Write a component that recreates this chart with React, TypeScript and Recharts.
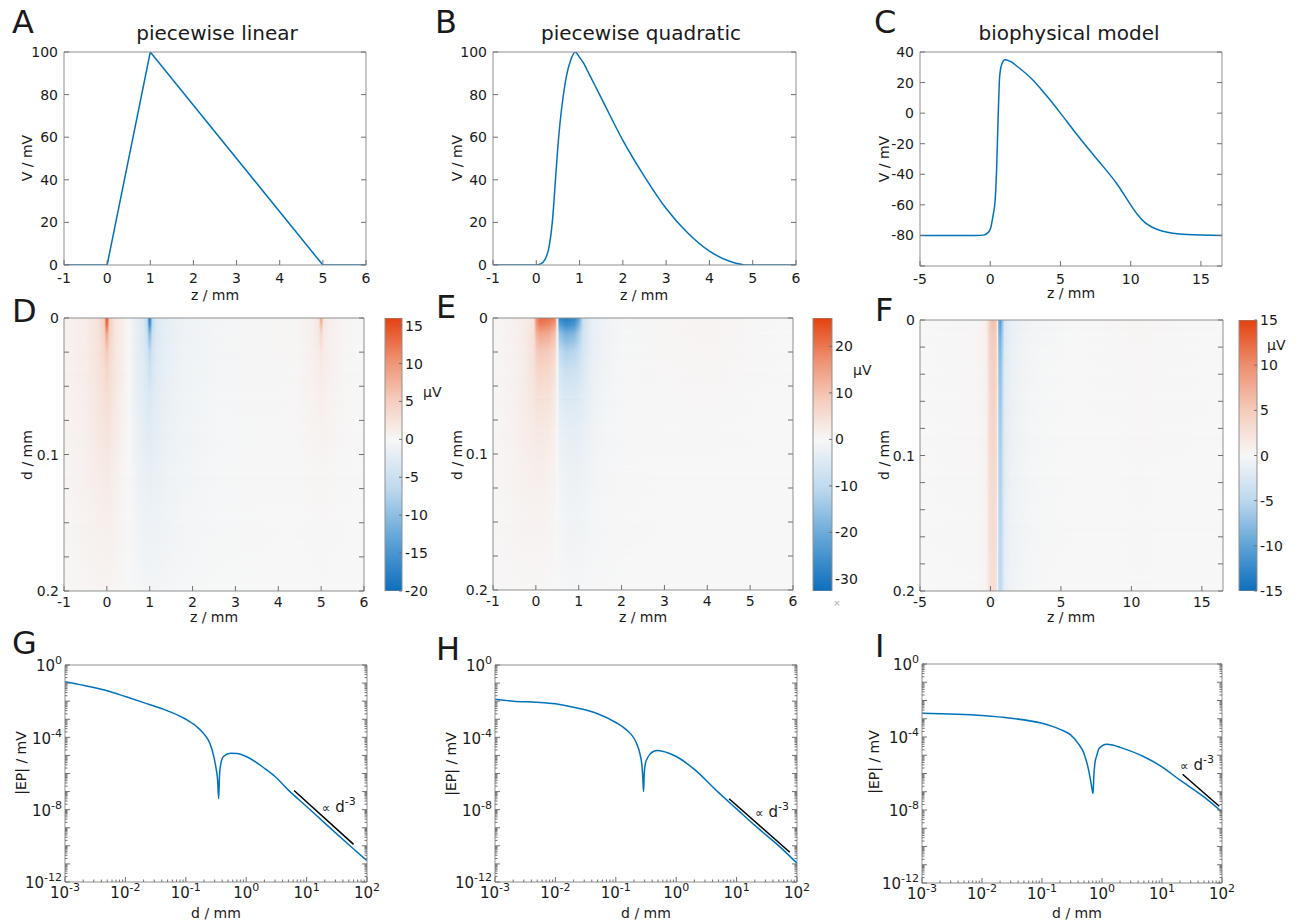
import React from "react";
import { LineChart, Line, ComposedChart, BarChart, Bar, XAxis, YAxis, ReferenceArea, ReferenceDot } from "recharts";

const FONT = "'DejaVu Sans', Verdana, sans-serif";
const INK = "#1a1a1a";
const FRAME = "#8f8f8f";
const TICK = "#707070";
const BLUE = "#0072bd";

// A-C: membrane potential V (mV) along the fibre, z (mm)
const linZ = [-1, 0, 1, 5, 6];
const linV = [0, 0, 100, 0, 0];
const quadZ = [-1, 0, 0.1, 0.2, 0.3, 0.37, 0.45, 0.5, 0.55, 0.62, 0.7, 0.8, 0.9, 1, 1.1, 1.2, 1.35, 1.5, 2, 2.5, 3, 3.5, 4, 4.5, 4.85, 6];
const quadV = [0, 0, 0.5, 2.5, 9, 20, 42, 56, 67, 79, 89, 96.5, 100, 97.5, 94.5, 90.5, 84.5, 78.5, 58.5, 41.5, 26.5, 15, 6.5, 1.5, 0, 0];
const bioZ = [-5, -1, -0.5, -0.2, 0, 0.2, 0.35, 0.46, 0.53, 0.6, 0.65, 0.72, 0.82, 1.05, 1.5, 2, 3, 4, 5, 6, 7, 8, 9, 10, 10.5, 11, 11.5, 12, 13, 14, 16.5];
const bioV = [-80, -80, -79.8, -78.5, -76, -67, -57, -35, -13, 8, 21, 28, 32, 35, 33.5, 30, 22, 11.5, 0, -12, -23.5, -34.5, -46, -60, -66.5, -71.5, -74.5, -76.5, -78.5, -79.4, -80];

const zTicksShort = [-1, 0, 1, 2, 3, 4, 5, 6];
const zTicksLong = [-5, 0, 5, 10, 15];
const vTicks = [0, 20, 40, 60, 80, 100];
const bioVTicks = [-100, -80, -60, -40, -20, 0, 20, 40];

// G-I: |EP| (mV) against distance d (mm)
const linD = [0.001, 0.002, 0.005, 0.01, 0.02, 0.05, 0.1, 0.15, 0.2, 0.25, 0.29, 0.32, 0.336, 0.35, 0.363, 0.382, 0.42, 0.55, 0.7, 1, 2, 3, 5, 10, 20, 50, 100];
const linEP = [1.2e-1, 7.6e-2, 3.8e-2, 1.8e-2, 8.3e-3, 2.9e-3, 1.0e-3, 4.0e-4, 1.55e-4, 4.7e-5, 9e-6, 1.6e-6, 4.5e-7, 4.0e-8, 1.05e-6, 3.7e-6, 8.7e-6, 1.3e-5, 1.26e-5, 8.7e-6, 1.95e-6, 6.8e-7, 1.2e-7, 1.5e-8, 1.8e-9, 1.15e-10, 1.5e-11];
const quadD = [0.001, 0.002, 0.005, 0.01, 0.02, 0.05, 0.1, 0.15, 0.2, 0.22, 0.25, 0.27, 0.28, 0.288, 0.296, 0.31, 0.34, 0.41, 0.5, 0.7, 1, 2, 5, 10, 20, 50, 100];
const quadEP = [1.26e-2, 1.0e-2, 8.7e-3, 7.1e-3, 4.6e-3, 2.0e-3, 6.6e-4, 2.6e-4, 8.9e-5, 4.7e-5, 1.3e-5, 3.0e-6, 6e-7, 1e-7, 1.05e-6, 3.7e-6, 7.9e-6, 1.6e-5, 1.9e-5, 1.45e-5, 8.7e-6, 1.7e-6, 9e-8, 1.1e-8, 1.35e-9, 1.0e-10, 1.1e-11];
const bioD = [0.001, 0.01, 0.03, 0.1, 0.2, 0.3, 0.4, 0.5, 0.6, 0.66, 0.71, 0.73, 0.76, 0.82, 0.9, 1.2, 1.5, 2, 5, 10, 20, 50, 100];
const bioEP = [2.0e-3, 1.5e-3, 1.07e-3, 5.6e-4, 2.6e-4, 1.3e-4, 4.5e-5, 1.26e-5, 1.5e-6, 2.8e-7, 8e-8, 6.6e-7, 3.5e-6, 1.0e-5, 2.4e-5, 4.0e-5, 3.6e-5, 2.7e-5, 8.3e-6, 2.3e-6, 4.3e-7, 5.2e-8, 7.8e-9];

// d^-3 guide lines and where their labels sit
const linGuideD = [6.2, 60];
const linGuideEP = [1.15e-7, 1.2e-10];
const quadGuideD = [7.5, 76];
const quadGuideEP = [4e-8, 4.4e-11];
const bioGuideD = [22, 90];
const bioGuideEP = [9.1e-7, 1.6e-8];
const guideNotes = [
  { d: 17.9, ep: 7.4e-9 },
  { d: 20.2, ep: 3.9e-9 },
  { d: 20, ep: 1.55e-6 },
];

const dMajor = [1e-3, 1e-2, 1e-1, 1, 10, 100];
const epDecades = [1, 1e-1, 1e-2, 1e-3, 1e-4, 1e-5, 1e-6, 1e-7, 1e-8, 1e-9, 1e-10, 1e-11, 1e-12];
const epLabelled = [0, -4, -8, -12];

// D-F: potential (µV) at nodes z, one row per depth node
const depthNodes = [0, 0.005, 0.012, 0.025, 0.04, 0.06, 0.085, 0.115, 0.15, 0.2];
const linMapZ = [-1, -0.5, -0.2, -0.06, 0, 0.06, 0.2, 0.4, 0.52, 0.65, 0.85, 0.94, 1, 1.06, 1.15, 1.4, 1.8, 2.6, 4.4, 4.8, 4.95, 5, 5.05, 5.2, 5.6, 6];
const linMap = [
  [0.6, 1.2, 2.5, 5, 16, 5, 2, 0.8, 0, -1.5, -3, -6, -20, -6, -3, -1.8, -1, -0.4, 0.3, 1, 2.5, 10, 2.5, 1, 0.3, 0],
  [0.6, 1.2, 2.5, 5, 14, 5, 2, 0.8, 0, -1.5, -3, -6, -17, -6, -3, -1.8, -1, -0.4, 0.3, 1, 2.2, 7, 2.2, 1, 0.3, 0],
  [0.6, 1.2, 2.5, 4.5, 9, 4.5, 2, 0.8, 0, -1.5, -3, -5, -11, -5, -3, -1.8, -1, -0.4, 0.3, 1, 1.8, 4, 1.8, 1, 0.3, 0],
  [0.6, 1.2, 2.4, 3.8, 5.5, 3.8, 2, 0.8, 0, -1.5, -2.8, -4, -6.5, -4, -2.8, -1.7, -1, -0.4, 0.3, 0.9, 1.4, 2.2, 1.4, 0.9, 0.3, 0],
  [0.6, 1.2, 2.3, 3.2, 4, 3.2, 1.9, 0.7, 0, -1.4, -2.6, -3.4, -4.5, -3.4, -2.6, -1.6, -0.9, -0.4, 0.2, 0.8, 1.1, 1.5, 1.1, 0.8, 0.2, 0],
  [0.5, 1.1, 2.1, 2.7, 3, 2.7, 1.7, 0.6, 0, -1.3, -2.3, -2.8, -3.3, -2.8, -2.3, -1.5, -0.9, -0.3, 0.2, 0.6, 0.9, 1.1, 0.9, 0.6, 0.2, 0],
  [0.5, 1.0, 1.8, 2.1, 2.3, 2.1, 1.4, 0.5, 0, -1.1, -1.9, -2.2, -2.5, -2.2, -1.9, -1.3, -0.8, -0.3, 0.1, 0.5, 0.6, 0.7, 0.6, 0.5, 0.1, 0],
  [0.4, 0.8, 1.3, 1.5, 1.6, 1.5, 1.0, 0.4, 0, -0.8, -1.4, -1.6, -1.8, -1.6, -1.5, -1.1, -0.7, -0.2, 0.1, 0.3, 0.4, 0.4, 0.4, 0.3, 0.1, 0],
  [0.3, 0.6, 0.9, 1.0, 1.0, 1.0, 0.7, 0.3, 0, -0.6, -1.0, -1.1, -1.2, -1.1, -1.1, -0.8, -0.5, -0.2, 0, 0.1, 0.2, 0.2, 0.2, 0.1, 0, 0],
  [0.2, 0.4, 0.5, 0.5, 0.5, 0.5, 0.4, 0.2, 0, -0.3, -0.5, -0.6, -0.6, -0.6, -0.6, -0.5, -0.3, -0.1, 0, 0, 0.1, 0.1, 0.1, 0, 0, 0],
];
const quadMapZ = [-1, -0.6, -0.3, -0.05, 0.02, 0.1, 0.3, 0.45, 0.5, 0.55, 0.7, 0.9, 1.0, 1.1, 1.3, 1.6, 2.0, 3.0, 4.1, 5.2, 6];
const quadMap = [
  [0.3, 1, 2, 4, 18, 22, 21, 19, 0, -28, -30, -28, -22, -8, -3, -1.5, -0.5, 0.5, 0.8, 0.2, 0],
  [0.3, 1, 2, 4, 16, 19, 18, 15, 0, -22, -26, -24, -18, -8, -3, -1.5, -0.5, 0.5, 0.8, 0.2, 0],
  [0.3, 1, 2, 4.5, 12, 14, 13, 10, 0, -15, -19, -17, -13, -7, -3, -1.5, -0.5, 0.5, 0.7, 0.2, 0],
  [0.3, 1, 2, 4.5, 8, 9, 8.5, 6, 0, -9, -12, -11, -9, -6, -3, -1.3, -0.5, 0.4, 0.6, 0.1, 0],
  [0.3, 1, 2, 4, 6, 6.5, 6, 4, 0, -6, -8, -7.5, -6.5, -5, -2.5, -1.2, -0.4, 0.3, 0.5, 0.1, 0],
  [0.3, 1, 2, 3.2, 4.2, 4.4, 4, 2.5, 0, -3.5, -5, -5, -4.5, -3.8, -2, -1, -0.3, 0.2, 0.3, 0, 0],
  [0.3, 0.9, 1.8, 2.4, 2.8, 2.8, 2.4, 1.4, 0, -2, -3, -3.2, -3, -2.6, -1.5, -0.8, -0.3, 0.1, 0.1, 0, 0],
  [0.3, 0.8, 1.3, 1.6, 1.7, 1.7, 1.4, 0.8, 0, -1.2, -1.9, -2.1, -2, -1.8, -1.1, -0.6, -0.2, 0, 0, 0, 0],
  [0.2, 0.6, 0.9, 1, 1, 0.9, 0.7, 0.4, 0, -0.6, -1.1, -1.3, -1.3, -1.2, -0.8, -0.4, -0.2, 0, 0, 0, 0],
  [0.1, 0.3, 0.4, 0.4, 0.4, 0.4, 0.3, 0.2, 0, -0.3, -0.5, -0.6, -0.6, -0.5, -0.4, -0.2, -0.1, 0, 0, 0, 0],
];
const bioMapZ = [-5, -1, -0.3, -0.1, 0.1, 0.3, 0.45, 0.52, 0.58, 0.7, 0.85, 1.0, 1.5, 2.5, 3.6, 6, 9, 10.5, 12, 16.5];
const bioMap = [
  [0, 0.2, 0.8, 4, 6, 6, 4, 0, -9, -11, -7, -2.5, -1.2, -0.6, -0.3, 0, 0.2, 0.4, 0.2, 0],
  [0, 0.2, 0.8, 3.8, 5.5, 5.5, 3.8, 0, -8.5, -10, -6.5, -2.3, -1.1, -0.6, -0.3, 0, 0.2, 0.3, 0.2, 0],
  [0, 0.2, 0.8, 3.6, 5, 5, 3.6, 0, -8, -9, -6, -2.2, -1.1, -0.5, -0.3, 0, 0.1, 0.3, 0.1, 0],
  [0, 0.2, 0.7, 3.4, 4.6, 4.6, 3.4, 0, -7, -8, -5.5, -2, -1, -0.5, -0.2, 0, 0.1, 0.2, 0.1, 0],
  [0, 0.2, 0.7, 3.2, 4.3, 4.3, 3.2, 0, -6.5, -7.5, -5, -1.9, -1, -0.5, -0.2, 0, 0.1, 0.2, 0.1, 0],
  [0, 0.2, 0.7, 3, 4, 4, 3, 0, -6, -7, -4.6, -1.8, -0.9, -0.4, -0.2, 0, 0.1, 0.2, 0.1, 0],
  [0, 0.2, 0.6, 2.8, 3.7, 3.7, 2.8, 0, -5.5, -6.3, -4.2, -1.7, -0.9, -0.4, -0.2, 0, 0, 0.2, 0.1, 0],
  [0, 0.2, 0.6, 2.6, 3.4, 3.4, 2.6, 0, -5, -5.8, -3.9, -1.6, -0.8, -0.4, -0.2, 0, 0, 0.1, 0, 0],
  [0, 0.1, 0.5, 2.4, 3.1, 3.1, 2.4, 0, -4.6, -5.3, -3.6, -1.5, -0.8, -0.4, -0.2, 0, 0, 0.1, 0, 0],
  [0, 0.1, 0.5, 2.2, 2.8, 2.8, 2.2, 0, -4.2, -4.8, -3.3, -1.4, -0.7, -0.3, -0.1, 0, 0, 0.1, 0, 0],
];
const dTicksLin = [0, 0.025, 0.05, 0.075, 0.1, 0.125, 0.15, 0.175, 0.2];
const dTicksBio = [0, 0.02, 0.04, 0.06, 0.08, 0.1, 0.12, 0.14, 0.16, 0.18, 0.2];
const dLabelled = [0, 0.1, 0.2];

// colour bar ranges (µV) and ticks
const linBar: [number, number] = [-20, 16];
const linBarTicks = [-20, -15, -10, -5, 0, 5, 10, 15];
const quadBar: [number, number] = [-32.6, 26.1];
const quadBarTicks = [-30, -20, -10, 0, 10, 20];
const bioBar: [number, number] = [-15, 15];
const bioBarTicks = [-15, -10, -5, 0, 5, 10, 15];

const POS = ["#f7f7f7", "#f5cbbb", "#ee8e6e", "#e4410f"];
const NEG = ["#f7f7f7", "#bcd8ee", "#5ea3d6", "#0d6ebc"];
const hex = (c: string) => [1, 3, 5].map((i) => parseInt(c.slice(i, i + 2), 16));
const ramp = (stops: string[], t: number) => {
  const s = Math.max(0, Math.min(1, t)) * (stops.length - 1);
  const i = Math.min(stops.length - 2, Math.floor(s));
  const f = s - i;
  const a = hex(stops[i]);
  const b = hex(stops[i + 1]);
  return `rgb(${a.map((c, k) => Math.round(c + (b[k] - c) * f)).join(",")})`;
};
const colour = (v: number, lo: number, hi: number) => (v >= 0 ? ramp(POS, v / hi) : ramp(NEG, v / lo));

const zip = (xs: number[], ys: number[]) => xs.map((x, i) => ({ x, y: ys[i] }));

const maps = [
  { id: "lin", z: linMapZ, rows: linMap, range: linBar, zDomain: [-1, 6] as [number, number] },
  { id: "quad", z: quadMapZ, rows: quadMap, range: quadBar, zDomain: [-1, 6] as [number, number] },
  { id: "bio", z: bioMapZ, rows: bioMap, range: bioBar, zDomain: [-5, 16.5] as [number, number] },
];

const barStops = ([lo, hi]: [number, number]) => {
  const span = hi - lo;
  const n = POS.length - 1;
  const s = [
    ...POS.map((c, k) => ({ o: (hi - (hi * k) / n) / span, c })),
    ...NEG.map((c, k) => ({ o: (hi - (lo * k) / n) / span, c })),
  ];
  return s.sort((a, b) => a.o - b.o);
};

type Side = "bottom" | "top" | "left" | "right";
type Fmt = ((v: number) => React.ReactNode) | null;

// inward tick mark plus an outside label; tickSize/tickMargin are 0 so (x, y) sits on the frame
const tickShape = (side: Side, fmt: Fmt, isMinor: (v: number) => boolean, off: number, shift = 0, fontSize = 14, major = 5) => (p: any) => {
  const x = Number(p.x);
  const y = Number(p.y);
  const v = Number(p.payload?.value);
  const len = isMinor(v) ? 2.5 : major;
  const ln =
    side === "bottom" ? { x1: x, x2: x, y1: y, y2: y - len }
    : side === "top" ? { x1: x, x2: x, y1: y, y2: y + len }
    : side === "left" ? { x1: x, x2: x + len, y1: y, y2: y }
    : { x1: x, x2: x - len, y1: y, y2: y };
  const txt = fmt ? fmt(v) : null;
  const t = { fontSize, fill: INK, fontFamily: FONT };
  return (
    <g>
      <line {...ln} stroke={TICK} strokeWidth={1} />
      {txt != null && side === "bottom" && <text x={x} y={y + off} textAnchor="middle" {...t}>{txt}</text>}
      {txt != null && side === "left" && <text x={x - off} y={y + shift} dy="0.36em" textAnchor="end" {...t}>{txt}</text>}
      {txt != null && side === "right" && <text x={x + off} y={y} dy="0.36em" textAnchor="start" {...t}>{txt}</text>}
    </g>
  );
};

type AxisCfg = {
  domain: [number, number];
  ticks: number[];
  log?: boolean;
  fmt: Fmt;
  minor?: (v: number) => boolean;
  off: number;
  reversed?: boolean;
  shift?: number;
  size?: number;
};

const LEFT_W = 60;
const TOP_M = 10;
const RIGHT_M = 14;
const BOTTOM_H = 50;
// the top and right axes need a size of at least 1px or Recharts skips drawing them
const EDGE = 1;

const base = {
  type: "number" as const,
  allowDataOverflow: true,
  interval: 0 as const,
  tickLine: false,
  tickSize: 0,
  tickMargin: 0,
  axisLine: { stroke: FRAME, strokeWidth: 1 },
};

const frame = (xa: AxisCfg, ya: AxisCfg) => {
  const xs = xa.log ? "log" : "linear";
  const ys = ya.log ? "log" : "linear";
  const xm = xa.minor ?? (() => false);
  const ym = ya.minor ?? (() => false);
  return [
    <XAxis key="xb" xAxisId="b" dataKey="x" {...base} scale={xs} domain={xa.domain} ticks={xa.ticks} height={BOTTOM_H}
      tick={tickShape("bottom", xa.fmt, xm, xa.off, 0, xa.size)} />,
    <XAxis key="xt" xAxisId="t" orientation="top" {...base} scale={xs} domain={xa.domain} ticks={xa.ticks} height={EDGE}
      tick={tickShape("top", null, xm, 0)} />,
    <YAxis key="yl" yAxisId="l" dataKey="y" {...base} scale={ys} domain={ya.domain} ticks={ya.ticks} reversed={ya.reversed}
      width={LEFT_W} tick={tickShape("left", ya.fmt, ym, ya.off, ya.shift ?? 0, ya.size)} />,
    <YAxis key="yr" yAxisId="r" orientation="right" {...base} scale={ys} domain={ya.domain} ticks={ya.ticks} reversed={ya.reversed}
      width={EDGE} tick={tickShape("right", null, ym, 0)} />,
  ];
};

type Box = { l: number; t: number; w: number; h: number };
const holder = (b: Box): React.CSSProperties => ({ position: "absolute", left: b.l - LEFT_W, top: b.t - TOP_M });
const chartMargin = { top: TOP_M - EDGE, right: RIGHT_M - EDGE, left: 0, bottom: 0 };

const plain = (v: number) => String(v);
const isDecade = (v: number) => Math.abs(Math.log10(v) - Math.round(Math.log10(v))) < 1e-6;
const pow10 = (v: number) => [
  <tspan key="b">10</tspan>,
  <tspan key="e" dy={-7} fontSize={11}>{String(Math.round(Math.log10(v)))}</tspan>,
];
const dTicks = [...dMajor, ...dMajor.slice(0, -1).flatMap((m) => [2, 3, 4, 5, 6, 7, 8, 9].map((k) => m * k))];
const epTicks = [...epDecades, ...epDecades.slice(1).flatMap((m) => [2, 3, 4, 5, 6, 7, 8, 9].map((k) => m * k))];

const logX: AxisCfg = { domain: [1e-3, 100], ticks: dTicks, log: true, fmt: (v) => (isDecade(v) ? pow10(v) : null), minor: (v) => !isDecade(v), off: 16, size: 15 };
const logY: AxisCfg = {
  domain: [1e-12, 1], ticks: epTicks, log: true, size: 15,
  fmt: (v) => (isDecade(v) && epLabelled.includes(Math.round(Math.log10(v))) ? pow10(v) : null),
  minor: (v) => !isDecade(v), off: 3, shift: 1,
};

type Series = { data: { x: number; y: number }[]; color: string; kind: "linear" | "monotone" };

function LinePanel({ box, xa, ya, series, note }: { box: Box; xa: AxisCfg; ya: AxisCfg; series: Series[]; note?: { d: number; ep: number } }) {
  return (
    <div style={holder(box)}>
      <LineChart width={box.w + LEFT_W + RIGHT_M} height={box.h + TOP_M + BOTTOM_H} margin={chartMargin}>
        {frame(xa, ya)}
        {series.map((s, i) => (
          <Line key={i} xAxisId="b" yAxisId="l" data={s.data} dataKey="y" type={s.kind} stroke={s.color}
            strokeWidth={1.5} dot={false} activeDot={false} isAnimationActive={false} />
        ))}
        {note && (
          <ReferenceDot xAxisId="b" yAxisId="l" x={note.d} y={note.ep} r={0}
            shape={(p: any) => (
              <text x={p.cx} y={p.cy} fontSize={15} fill={INK} fontFamily={FONT}>
                <tspan fontSize={12}>∝</tspan>
                <tspan> d</tspan>
                <tspan dy={-7} fontSize={11}>-3</tspan>
              </text>
            )} />
        )}
      </LineChart>
    </div>
  );
}

// each depth band: the upper node's colours, blended into the lower node's colours
const band = (id: string, r: number) => (p: any) => (
  <g>
    <rect x={p.x} y={p.y} width={p.width} height={p.height} fill={`url(#map-${id}-${r})`} shapeRendering="crispEdges" />
    <rect x={p.x} y={p.y} width={p.width} height={p.height} fill={`url(#map-${id}-${r + 1})`} mask="url(#fade-down)" shapeRendering="crispEdges" />
  </g>
);

function MapPanel({ box, m, zTicks, dTicksAll }: { box: Box; m: (typeof maps)[number]; zTicks: number[]; dTicksAll: number[] }) {
  const xa: AxisCfg = { domain: m.zDomain, ticks: zTicks, fmt: plain, off: 16 };
  const ya: AxisCfg = { domain: [0, 0.2], ticks: dTicksAll, reversed: true, fmt: (v) => (dLabelled.includes(v) ? String(v) : null), off: 5 };
  return (
    <div style={holder(box)}>
      <ComposedChart width={box.w + LEFT_W + RIGHT_M} height={box.h + TOP_M + BOTTOM_H} margin={chartMargin}>
        {depthNodes.slice(0, -1).map((d0, r) => (
          <ReferenceArea key={r} xAxisId="b" yAxisId="l" x1={m.zDomain[0]} x2={m.zDomain[1]} y1={d0} y2={depthNodes[r + 1]}
            fill={`url(#map-${m.id}-${r})`} stroke="none" shape={band(m.id, r)} />
        ))}
        {frame(xa, ya)}
      </ComposedChart>
    </div>
  );
}

// colour bar: one floating bar spanning the colour range
function ColourBar({ box, m, ticks }: { box: Box; m: (typeof maps)[number]; ticks: number[] }) {
  const data = [{ k: m.id, span: m.range }];
  return (
    <div style={{ position: "absolute", left: box.l - 10, top: box.t - 10 }}>
      <BarChart width={box.w + 60} height={box.h + 20} data={data} margin={{ top: 10, right: 50 - EDGE, left: 10, bottom: 10 }}
        barCategoryGap={0} barGap={0}>
        <Bar dataKey="span" fill={`url(#bar-${m.id})`} stroke={FRAME} strokeWidth={1} isAnimationActive={false} />
        <XAxis dataKey="k" type="category" hide />
        <YAxis orientation="right" type="number" domain={m.range} ticks={ticks} allowDataOverflow interval={0} width={EDGE}
          tickLine={false} axisLine={false} tickSize={0} tickMargin={0} tick={tickShape("right", plain, () => false, 3, 0, 14, 3)} />
      </BarChart>
    </div>
  );
}

function Gradients() {
  return (
    <svg width={0} height={0} style={{ position: "absolute", left: 0, top: 0 }} aria-hidden="true">
      <defs>
        <linearGradient id="fade-ramp" x1="0" y1="0" x2="0" y2="1">
          <stop offset={0} stopColor="#000" />
          <stop offset={1} stopColor="#fff" />
        </linearGradient>
        <mask id="fade-down" maskContentUnits="objectBoundingBox">
          <rect x={0} y={0} width={1} height={1} fill="url(#fade-ramp)" />
        </mask>
        {maps.map((m) =>
          m.rows.map((row, r) => (
            <linearGradient key={`${m.id}-${r}`} id={`map-${m.id}-${r}`} x1="0" y1="0" x2="1" y2="0">
              {m.z.map((z, j) => (
                <stop key={j} offset={(z - m.zDomain[0]) / (m.zDomain[1] - m.zDomain[0])} stopColor={colour(row[j], m.range[0], m.range[1])} />
              ))}
            </linearGradient>
          ))
        )}
        {maps.map((m) => (
          <linearGradient key={`bar-${m.id}`} id={`bar-${m.id}`} x1="0" y1="0" x2="0" y2="1">
            {barStops(m.range).map((s, k) => (
              <stop key={k} offset={s.o} stopColor={s.c} />
            ))}
          </linearGradient>
        ))}
      </defs>
    </svg>
  );
}

const letters: [string, number, number][] = [
  ["A", 12, 33], ["B", 435, 33], ["C", 874, 33],
  ["D", 12, 322], ["E", 436, 318], ["F", 875, 321],
  ["G", 12, 654], ["H", 436, 660], ["I", 875, 657],
];
const titles: [string, number, number][] = [
  ["piecewise linear", 217, 40], ["piecewise quadratic", 641, 40], ["biophysical model", 1069, 40],
];
const xTitles: [string, number, number][] = [
  ["z / mm", 215, 300], ["z / mm", 644, 300], ["z / mm", 1071, 298],
  ["z / mm", 214, 622], ["z / mm", 643, 622], ["z / mm", 1071, 622],
  ["d / mm", 216, 918], ["d / mm", 646, 918], ["d / mm", 1077, 918],
];
const yTitles: [string, number, number][] = [
  ["V / mV", 27, 158], ["V / mV", 457, 158], ["V / mV", 884, 159],
  ["d / mm", 27, 455], ["d / mm", 457, 455], ["d / mm", 884, 455],
  ["|EP| / mV", 21, 763], ["|EP| / mV", 451, 764], ["|EP| / mV", 874, 762],
];
const units: [string, number, number][] = [["µV", 423, 397], ["µV", 853, 375], ["µV", 1267, 350]];

function Annotations() {
  const t = { fill: INK, fontFamily: FONT };
  return (
    <svg width={1297} height={922} style={{ position: "absolute", left: 0, top: 0, pointerEvents: "none" }}>
      {letters.map(([s, x, y]) => <text key={s} x={x} y={y} fontSize={32} {...t}>{s}</text>)}
      {titles.map(([s, x, y]) => <text key={s} x={x} y={y} fontSize={20} textAnchor="middle" {...t}>{s}</text>)}
      {xTitles.map(([s, x, y], i) => <text key={i} x={x} y={y} fontSize={14} textAnchor="middle" {...t}>{s}</text>)}
      {yTitles.map(([s, x, y], i) => (
        <text key={i} x={x} y={y} fontSize={14} textAnchor="middle" dominantBaseline="central" transform={`rotate(-90 ${x} ${y})`} {...t}>{s}</text>
      ))}
      {units.map(([s, x, y], i) => <text key={i} x={x} y={y} fontSize={14} {...t}>{s}</text>)}
      <text x={837} y={606} fontSize={9} fill="#aaaaaa" textAnchor="middle" fontFamily={FONT}>×</text>
    </svg>
  );
}

export default function App() {
  const topA: AxisCfg = { domain: [-1, 6], ticks: zTicksShort, fmt: plain, off: 18 };
  const topV: AxisCfg = { domain: [0, 100], ticks: vTicks, fmt: plain, off: 6 };
  const bioX: AxisCfg = { domain: [-5, 16.5], ticks: zTicksLong, fmt: plain, off: 18 };
  const bioY: AxisCfg = { domain: [-100, 40], ticks: bioVTicks, fmt: (v) => (v === -100 ? null : String(v)), off: 6 };
  return (
    <div style={{ position: "absolute", left: 0, top: 0, width: 1297, height: 922, background: "#fff", fontFamily: FONT }}>
      <Gradients />
      <LinePanel box={{ l: 64, t: 52, w: 302, h: 213 }} xa={topA} ya={topV} series={[{ data: zip(linZ, linV), color: BLUE, kind: "linear" }]} />
      <LinePanel box={{ l: 493, t: 52, w: 303, h: 213 }} xa={topA} ya={topV} series={[{ data: zip(quadZ, quadV), color: BLUE, kind: "monotone" }]} />
      <LinePanel box={{ l: 920, t: 52, w: 302, h: 214 }} xa={bioX} ya={bioY} series={[{ data: zip(bioZ, bioV), color: BLUE, kind: "monotone" }]} />

      <MapPanel box={{ l: 64, t: 318, w: 300, h: 273 }} m={maps[0]} zTicks={zTicksShort} dTicksAll={dTicksLin} />
      <MapPanel box={{ l: 493, t: 318, w: 300, h: 272 }} m={maps[1]} zTicks={zTicksShort} dTicksAll={dTicksLin} />
      <MapPanel box={{ l: 920, t: 320, w: 303, h: 271 }} m={maps[2]} zTicks={zTicksLong} dTicksAll={dTicksBio} />
      <ColourBar box={{ l: 385, t: 318, w: 17, h: 273 }} m={maps[0]} ticks={linBarTicks} />
      <ColourBar box={{ l: 813, t: 318, w: 19, h: 273 }} m={maps[1]} ticks={quadBarTicks} />
      <ColourBar box={{ l: 1239, t: 320, w: 18, h: 271 }} m={maps[2]} ticks={bioBarTicks} />

      <LinePanel box={{ l: 65, t: 665, w: 302, h: 217 }} xa={logX} ya={logY} note={guideNotes[0]}
        series={[{ data: zip(linD, linEP), color: BLUE, kind: "monotone" }, { data: zip(linGuideD, linGuideEP), color: "#000", kind: "linear" }]} />
      <LinePanel box={{ l: 495, t: 665, w: 302, h: 217 }} xa={logX} ya={logY} note={guideNotes[1]}
        series={[{ data: zip(quadD, quadEP), color: BLUE, kind: "monotone" }, { data: zip(quadGuideD, quadGuideEP), color: "#000", kind: "linear" }]} />
      <LinePanel box={{ l: 922, t: 664, w: 300, h: 219 }} xa={logX} ya={logY} note={guideNotes[2]}
        series={[{ data: zip(bioD, bioEP), color: BLUE, kind: "monotone" }, { data: zip(bioGuideD, bioGuideEP), color: "#000", kind: "linear" }]} />

      <Annotations />
    </div>
  );
}
